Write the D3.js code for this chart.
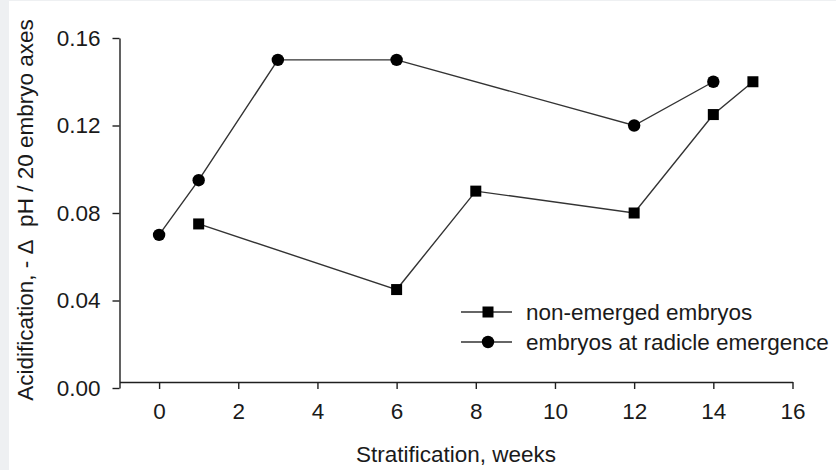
<!DOCTYPE html>
<html>
<head>
<meta charset="utf-8">
<script src="https://cdn.jsdelivr.net/npm/d3@7"></script>
<style>
  html, body { margin: 0; padding: 0; background: #eef0f2; }
  #chart { position: absolute; left: 9px; top: 1px; }
  text { font-family: "Liberation Sans", Arial, sans-serif; fill: #1a1a1a; }
</style>
</head>
<body>
<div id="chart"></div>
<script>
// weeks of stratification
const weeksNonEmerged = [1, 6, 8, 12, 14, 15];
const valuesNonEmerged = [0.075, 0.045, 0.09, 0.08, 0.125, 0.14];
const weeksRadicle = [0, 1, 3, 6, 12, 14];
const valuesRadicle = [0.07, 0.095, 0.15, 0.15, 0.12, 0.14];

const xTicks = [0, 2, 4, 6, 8, 10, 12, 14, 16];
const yTicks = [0, 0.04, 0.08, 0.12, 0.16];
const seriesNames = ['non-emerged embryos', 'embryos at radicle emergence'];

const W = 836, H = 470;
const offX = 9, offY = 1;

const svg = d3.select('#chart').append('svg')
  .attr('width', W - offX)
  .attr('height', H - offY)
  .style('background', '#fff');

const g = svg.append('g').attr('transform', 'translate(' + (-offX) + ',' + (-offY) + ')');

const x = d3.scaleLinear().domain([-1, 16]).range([119.5, 792.5]);
const y = d3.scaleLinear().domain([0, 0.16]).range([388, 38]);
const xAxisY = 382;
const ink = '#1f1f1f';
const fontSize = 22.5;

// y axis
const yAxis = g.append('g')
  .attr('transform', 'translate(' + x(-1) + ',0)')
  .call(d3.axisLeft(y).tickValues(yTicks).tickFormat(d3.format('.2f'))
    .tickSize(7).tickSizeOuter(0).tickPadding(12));

// x axis
const xAxis = g.append('g')
  .attr('transform', 'translate(0,' + xAxisY + ')')
  .call(d3.axisBottom(x).tickValues(xTicks).tickFormat(d3.format('d'))
    .tickSize(7).tickSizeOuter(0).tickPadding(14));

[yAxis, xAxis].forEach(a => {
  a.select('.domain').attr('stroke', ink).attr('stroke-width', 1.4);
  a.selectAll('.tick line').attr('stroke', ink).attr('stroke-width', 1.4);
  a.selectAll('.tick text')
    .attr('fill', ink)
    .style('font-family', '"Liberation Sans", Arial, sans-serif')
    .style('font-size', fontSize + 'px');
});

// axis titles
g.append('text')
  .attr('x', x(7.5))
  .attr('y', 462)
  .attr('text-anchor', 'middle')
  .style('font-size', fontSize + 'px')
  .text('Stratification, weeks');

g.append('text')
  .attr('transform', 'translate(33,' + 210 + ') rotate(-90)')
  .attr('text-anchor', 'middle')
  .style('font-size', fontSize + 'px')
  .style('white-space', 'pre')
  .text('Acidification, - \u0394\u00a0 pH / 20 embryo axes');

const line = d3.line()
  .x(d => x(d[0]))
  .y(d => y(d[1]));

const dataNon = weeksNonEmerged.map((w, i) => [w, valuesNonEmerged[i]]);
const dataRad = weeksRadicle.map((w, i) => [w, valuesRadicle[i]]);

[dataRad, dataNon].forEach(data => {
  g.append('path')
    .datum(data)
    .attr('fill', 'none')
    .attr('stroke', '#333')
    .attr('stroke-width', 1.4)
    .attr('d', line);
});

const sq = 11, rad = 6.2;

g.selectAll('rect.pt')
  .data(dataNon)
  .enter().append('rect')
  .attr('class', 'pt')
  .attr('x', d => x(d[0]) - sq / 2)
  .attr('y', d => y(d[1]) - sq / 2)
  .attr('width', sq)
  .attr('height', sq)
  .attr('fill', '#000');

g.selectAll('circle.pt')
  .data(dataRad)
  .enter().append('circle')
  .attr('class', 'pt')
  .attr('cx', d => x(d[0]))
  .attr('cy', d => y(d[1]))
  .attr('r', rad)
  .attr('fill', '#000');

// legend
const legend = g.append('g').attr('transform', 'translate(461,312)');
seriesNames.forEach((name, i) => {
  const row = legend.append('g').attr('transform', 'translate(0,' + (i * 30) + ')');
  row.append('line')
    .attr('x1', 0).attr('x2', 51)
    .attr('y1', 0).attr('y2', 0)
    .attr('stroke', '#333').attr('stroke-width', 1.4);
  if (i === 0) {
    row.append('rect')
      .attr('x', 27 - sq / 2).attr('y', -sq / 2)
      .attr('width', sq).attr('height', sq)
      .attr('fill', '#000');
  } else {
    row.append('circle')
      .attr('cx', 27).attr('cy', 0).attr('r', rad)
      .attr('fill', '#000');
  }
  row.append('text')
    .attr('x', 65)
    .attr('y', 0)
    .attr('dy', '0.35em')
    .style('font-size', fontSize + 'px')
    .text(name);
});
</script>
</body>
</html>
